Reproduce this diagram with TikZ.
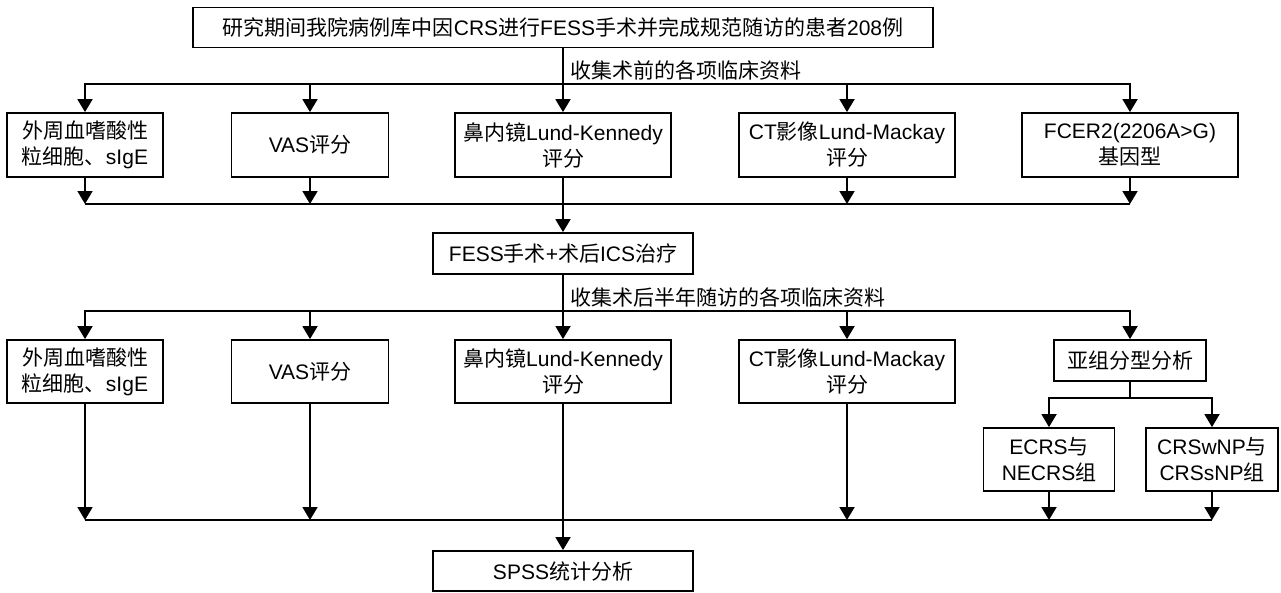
\documentclass[tikz,border=0pt]{standalone}
\usepackage{fontspec}
\setmainfont{Liberation Sans}
\newfontfamily\cjk{Noto Sans CJK SC}
\newcommand\zh[1]{{\cjk #1}}
\usetikzlibrary{arrows.meta}
\begin{document}
\begin{tikzpicture}[x=1pt,y=-1pt,
  box/.style={draw,line width=1.8pt,inner sep=0pt,align=center,font=\fontsize{21}{26}\selectfont},
  lbl/.style={inner sep=0pt,anchor=west,font=\fontsize{21}{26}\selectfont},
  ln/.style={line width=1.8pt},
  arr/.style={line width=1.8pt,-{Triangle[length=13pt,width=15pt]}}]
\useasboundingbox (0,0) rectangle (1281,592);
% top
\node[box,minimum width=740pt,minimum height=40pt] (top) at (563,27.5) {\zh{研究期间我院病例库中因}CRS\zh{进行}FESS\zh{手术并完成规范随访的患者}208\zh{例}};
\node[lbl] (l1) at (570,70) {\zh{收集术前的各项临床资料}};
% row 1
\node[box,minimum width=156pt,minimum height=64pt] (b1) at (85,145) {\zh{外周血嗜酸性}\\\zh{粒细胞、}sIgE};
\node[box,minimum width=157pt,minimum height=64pt] (b2) at (310,145) {VAS\zh{评分}};
\node[box,minimum width=216pt,minimum height=64pt] (b3) at (563,145) {\zh{鼻内镜}Lund-Kennedy\\\zh{评分}};
\node[box,minimum width=216pt,minimum height=64pt] (b4) at (847,145) {CT\zh{影像}Lund-Mackay\\\zh{评分}};
\node[box,minimum width=216pt,minimum height=64pt] (b5) at (1130,145) {FCER2(2206A>G)\\\zh{基因型}};
\coordinate (br1) at (563,84);
\coordinate (col1) at (563,204);
% FESS
\node[box,minimum width=260pt,minimum height=41pt] (fess) at (563,253.5) {FESS\zh{手术}+\zh{术后}ICS\zh{治疗}};
\node[lbl] (l2) at (570,297) {\zh{收集术后半年随访的各项临床资料}};
% row 2
\node[box,minimum width=156pt,minimum height=63pt] (c1) at (85,371.5) {\zh{外周血嗜酸性}\\\zh{粒细胞、}sIgE};
\node[box,minimum width=157pt,minimum height=63pt] (c2) at (310,371.5) {VAS\zh{评分}};
\node[box,minimum width=216pt,minimum height=63pt] (c3) at (563,371.5) {\zh{鼻内镜}Lund-Kennedy\\\zh{评分}};
\node[box,minimum width=216pt,minimum height=63pt] (c4) at (847,371.5) {CT\zh{影像}Lund-Mackay\\\zh{评分}};
\node[box,minimum width=152pt,minimum height=41pt] (sub) at (1130,360.5) {\zh{亚组分型分析}};
\node[box,minimum width=131pt,minimum height=63pt] (ecrs) at (1049,459.5) {ECRS\zh{与}\\NECRS\zh{组}};
\node[box,minimum width=132pt,minimum height=63pt] (crsw) at (1212,459.5) {CRSwNP\zh{与}\\CRSsNP\zh{组}};
\coordinate (br2) at (563,311);
\coordinate (col2) at (563,520);
\coordinate (subbr) at (1130,398);
% SPSS
\node[box,minimum width=260pt,minimum height=40pt] (spss) at (563,571) {SPSS\zh{统计分析}};
% connectors row 1
\draw[ln] (top) -- (br1);
\foreach \n in {b1,b2,b3,b4,b5} \draw[arr] (br1) -| (\n.north);
\foreach \n in {b1,b2,b4,b5} \draw[arr] (\n) -- (\n.south |- col1);
\draw[ln] (b1.south |- col1) -- (b5.south |- col1);
\draw[arr] (b3) -- (fess);
% connectors row 2
\draw[ln] (fess) -- (br2);
\foreach \n in {c1,c2,c3,c4,sub} \draw[arr] (br2) -| (\n.north);
\draw[ln] (sub) -- (subbr);
\foreach \n in {ecrs,crsw} \draw[arr] (subbr) -| (\n.north);
\foreach \n in {c1,c2,c4,ecrs,crsw} \draw[arr] (\n) -- (\n.south |- col2);
\draw[ln] (c1.south |- col2) -- (crsw.south |- col2);
\draw[arr] (c3) -- (spss);
\end{tikzpicture}
\end{document}
